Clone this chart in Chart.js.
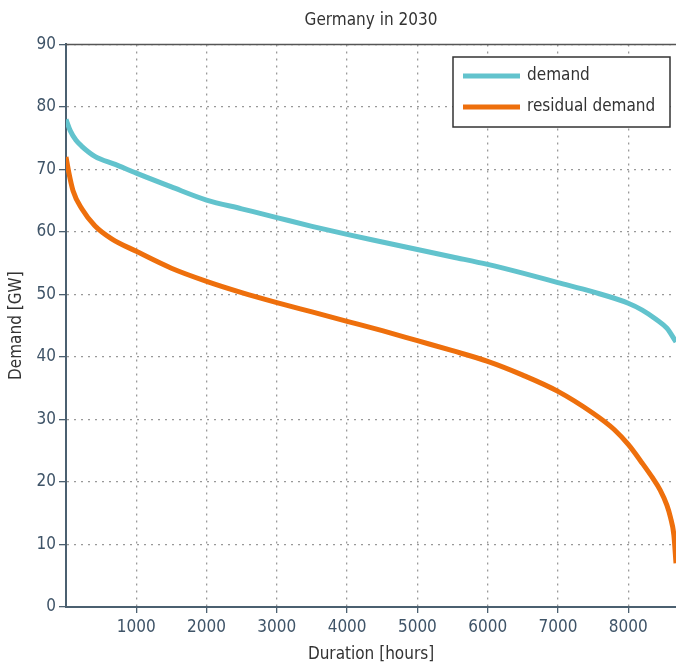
<!DOCTYPE html>
<html><head><meta charset="utf-8">
<script src="https://cdn.jsdelivr.net/npm/chart.js@4"></script>
<style>html,body{margin:0;padding:0;background:#fff}#wrap{width:676px;height:665px;position:relative}</style>
</head><body><div id="wrap"><canvas id="c" width="676" height="665"></canvas></div>
<script>
const title = "Germany in 2030";
const xTitle = "Duration [hours]";
const yTitle = "Demand [GW]";
const seriesNames = ["demand", "residual demand"];
const demandHours = [0, 60, 140, 225, 410, 700, 1000, 1500, 2000, 2500, 3000, 3500, 4000, 4500, 5000, 5500, 6000, 6500, 7000, 7500, 8000, 8200, 8400, 8550, 8680];
const demandGW    = [78, 76.2, 74.7, 73.7, 72.1, 70.8, 69.4, 67.2, 65.1, 63.7, 62.3, 60.9, 59.6, 58.4, 57.2, 56.0, 54.8, 53.4, 51.9, 50.4, 48.6, 47.5, 46.0, 44.6, 42.4];
const residualHours = [0, 40, 100, 225, 410, 650, 1000, 1500, 2000, 2500, 3000, 3500, 4000, 4500, 5000, 5500, 6000, 6500, 7000, 7500, 7800, 8000, 8200, 8350, 8455, 8550, 8600, 8650, 8680];
const residualGW    = [72, 69.5, 66.6, 63.7, 61, 58.9, 56.9, 54.2, 52.1, 50.3, 48.7, 47.2, 45.7, 44.2, 42.6, 41.0, 39.3, 37.1, 34.5, 31.0, 28.4, 26.0, 23.0, 20.6, 18.7, 16.3, 14.4, 11.5, 7];
const xTicks = [1000, 2000, 3000, 4000, 5000, 6000, 7000, 8000];
const yTicks = [0, 10, 20, 30, 40, 50, 60, 70, 80, 90];
const colors = ["#62c3cd", "#ee6f0c"];

const FONT = "'DejaVu Sans Condensed','Liberation Sans',sans-serif";
const tickColor = "#3f5468";
const axisColor = "#4b6070";

const legendPlugin = {
  id: 'customLegend',
  afterDraw(chart) {
    const ctx = chart.ctx, a = chart.chartArea;
    ctx.save();
    ctx.strokeStyle = "#555"; ctx.lineWidth = 1.5;
    ctx.beginPath(); ctx.moveTo(a.left, a.top); ctx.lineTo(a.right, a.top); ctx.stroke();
    const bx = 453, by = 57, bw = 217, bh = 70;
    ctx.fillStyle = "#fff"; ctx.fillRect(bx, by, bw, bh);
    ctx.strokeStyle = "#333"; ctx.lineWidth = 1.5; ctx.strokeRect(bx, by, bw, bh);
    ctx.font = "17px " + FONT; ctx.textBaseline = "middle"; ctx.fillStyle = "#333";
    chart.data.datasets.forEach((ds, i) => {
      const y = by + 19 + i * 31;
      ctx.strokeStyle = ds.borderColor; ctx.lineWidth = 5;
      ctx.beginPath(); ctx.moveTo(bx + 10, y); ctx.lineTo(bx + 67, y); ctx.stroke();
      ctx.fillText(ds.label, bx + 74, y);
    });
    ctx.restore();
  }
};

new Chart(document.getElementById('c'), {
  type: 'line',
  data: {
    datasets: [
      { label: seriesNames[0], data: demandHours.map((h, i) => ({x: h, y: demandGW[i]})), borderColor: colors[0], borderWidth: 5, pointRadius: 0, cubicInterpolationMode: 'monotone', fill: false },
      { label: seriesNames[1], data: residualHours.map((h, i) => ({x: h, y: residualGW[i]})), borderColor: colors[1], borderWidth: 5, pointRadius: 0, cubicInterpolationMode: 'monotone', fill: false }
    ]
  },
  options: {
    responsive: false, animation: false,
    layout: { padding: { top: 0, right: 0, left: 6, bottom: 0 } },
    plugins: {
      legend: { display: false },
      tooltip: { enabled: false },
      title: { display: true, fullSize: false, text: title, color: "#333", font: { family: FONT, size: 17, weight: 'normal' }, padding: { top: 10, bottom: 14 } }
    },
    scales: {
      x: {
        type: 'linear', min: 0, max: 8680,
        afterBuildTicks(s) { s.ticks = xTicks.map(v => ({value: v})); },
        afterFit(s) { s.height = 58; },
        ticks: { color: tickColor, font: { family: FONT, size: 17 }, padding: 4, maxRotation: 0, callback: v => String(v) },
        grid: { color: "#999", lineWidth: 1.3, tickLength: 6, tickColor: axisColor },
        border: { display: true, color: axisColor, width: 2, dash: [2, 5] },
        title: { display: true, text: xTitle, color: "#333", font: { family: FONT, size: 17 }, padding: { top: 0, bottom: 0 } }
      },
      y: {
        min: 0, max: 90,
        afterBuildTicks(s) { s.ticks = yTicks.map(v => ({value: v})); },
        afterFit(s) { s.width = 60; },
        ticks: { color: tickColor, font: { family: FONT, size: 17 }, padding: 3, callback: v => String(v) },
        grid: { color: "#999", lineWidth: 1.3, tickLength: 7, tickColor: axisColor },
        border: { display: true, color: axisColor, width: 2, dash: [2, 5] },
        title: { display: true, text: yTitle, color: "#333", font: { family: FONT, size: 17 }, padding: { top: 0, bottom: 4 } }
      }
    }
  },
  plugins: [legendPlugin]
});
</script></body></html>
